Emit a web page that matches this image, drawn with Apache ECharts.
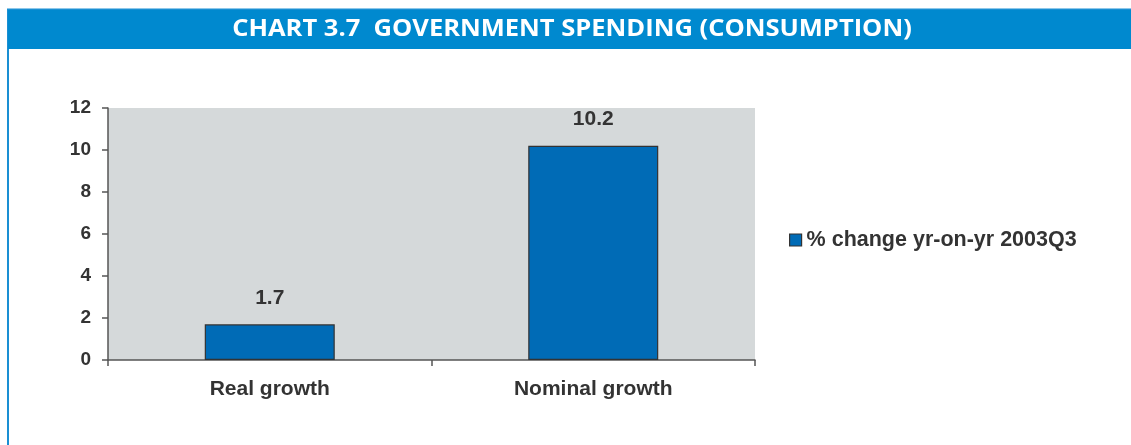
<!DOCTYPE html>
<html><head><meta charset="utf-8">
<script src="https://cdn.jsdelivr.net/npm/echarts@6/dist/echarts.min.js"></script>
<style>html,body{margin:0;padding:0;background:#fff;}#c{width:1131px;height:445px;}</style>
</head><body><div id="c"></div>
<script>
const titleText = 'CHART 3.7  GOVERNMENT SPENDING (CONSUMPTION)';
const categories = ['Real growth', 'Nominal growth'];
const seriesName = '% change yr-on-yr 2003Q3';
const values = [1.7, 10.2];
const yTicks = { min: 0, max: 12, interval: 2 };

const chart = echarts.init(document.getElementById('c'), null, { renderer: 'canvas' });
chart.setOption({
  animation: false,
  backgroundColor: '#ffffff',
  graphic: [
    { type: 'rect', z: 0, shape: { x: 8, y: 9.5, width: 1140, height: 460 }, style: { fill: 'none', stroke: '#1a8fd3', lineWidth: 2 } },
    { type: 'rect', z: 1, shape: { x: 8, y: 10, width: 1130, height: 39 }, style: { fill: '#0089cf' } },
    { type: 'text', z: 2, x: 572, y: 29, scaleX: 1.063, originX: 0, originY: 0,
      style: { text: titleText, fill: '#ffffff', font: 'bold 24px "Open Sans", sans-serif', align: 'center', verticalAlign: 'middle' } }
  ],
  grid: { left: 108, top: 108, width: 647, height: 252, backgroundColor: '#d5d9da', show: true, borderWidth: 0 },
  legend: {
    left: 784, top: 224, orient: 'vertical',
    icon: 'rect', itemWidth: 12, itemHeight: 12, itemGap: 6,
    itemStyle: { borderColor: '#333', borderWidth: 1.2 },
    textStyle: { color: '#333', fontWeight: 'bold', fontSize: 21.5, padding: [0, 0, 0, 0], fontFamily: 'Liberation Sans, Arial, sans-serif' },
    data: [seriesName]
  },
  xAxis: {
    type: 'category', data: categories, boundaryGap: true,
    axisLine: { show: true, lineStyle: { color: '#555', width: 1.5 } },
    axisTick: { show: true, length: 6, inside: false, lineStyle: { color: '#555', width: 1.5 } },
    axisLabel: { color: '#333', fontWeight: 'bold', fontSize: 21, margin: 19, fontFamily: 'Liberation Sans, Arial, sans-serif' }
  },
  yAxis: {
    type: 'value', min: yTicks.min, max: yTicks.max, interval: yTicks.interval,
    axisLine: { show: true, lineStyle: { color: '#555', width: 1.5 } },
    axisTick: { show: true, length: 6, lineStyle: { color: '#555', width: 1.5 } },
    splitLine: { show: false },
    axisLabel: { color: '#333', fontWeight: 'bold', fontSize: 19, margin: 17, fontFamily: 'Liberation Sans, Arial, sans-serif' }
  },
  series: [{
    name: seriesName, type: 'bar', data: values, barWidth: 130,
    itemStyle: { color: '#006bb6', borderColor: '#333', borderWidth: 1.2 },
    label: { show: true, position: 'top', distance: 16, color: '#333', fontWeight: 'bold', fontSize: 21, fontFamily: 'Liberation Sans, Arial, sans-serif', formatter: p => p.value.toFixed(1) }
  }]
});
</script></body></html>
